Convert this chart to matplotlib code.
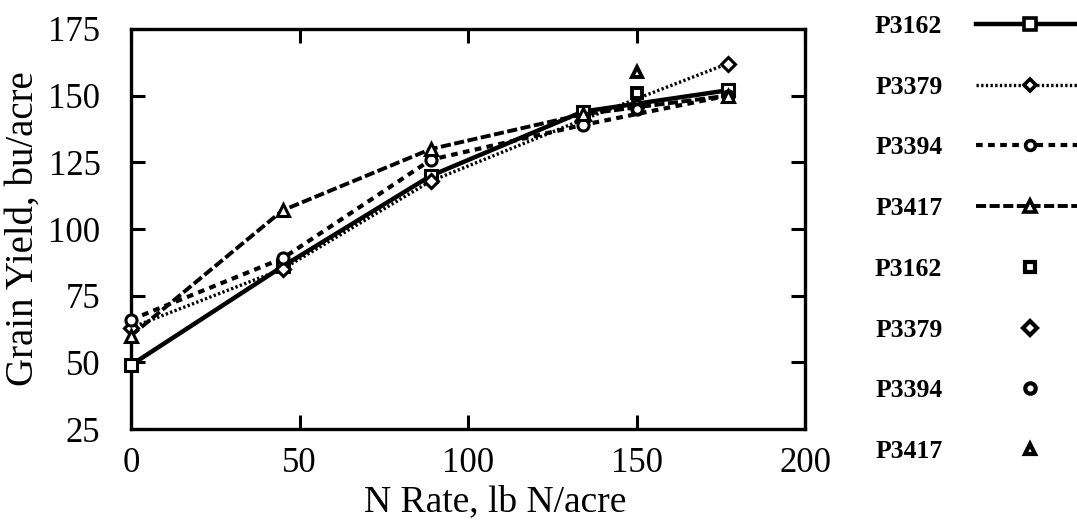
import matplotlib.pyplot as plt
from matplotlib.lines import Line2D

# N rates (lb N/acre) for the fitted/connected series
n_rate = [0, 45, 89, 134, 177]
# separate single N rate shown as markers only
n_rate_single = [150]

hybrids = ["P3162", "P3379", "P3394", "P3417"]

yield_p3162 = [49, 86, 120, 144, 152]
yield_p3379 = [63, 85, 118, 141, 162]
yield_p3394 = [66, 89, 126, 139, 150]
yield_p3417 = [60, 107, 130, 143, 150]

single_p3162 = [151]
single_p3379 = [146]
single_p3394 = [145]
single_p3417 = [159]

line_yields = [yield_p3162, yield_p3379, yield_p3394, yield_p3417]
single_yields = [single_p3162, single_p3379, single_p3394, single_p3417]

markers = ['s', 'D', 'o', '^']
msizes = [9, 7, 8, 9]
styles = [
    dict(linestyle='-', linewidth=3.2),
    dict(linestyle=(0, (0.7, 0.7)), linewidth=2.4),
    dict(linestyle=(0, (1.6, 1.3)), linewidth=3.0),
    dict(linestyle=(0, (2.6, 0.9)), linewidth=2.8),
]

plt.rcParams['font.family'] = ['Liberation Serif', 'DejaVu Serif']

fig = plt.figure(figsize=(10.77, 5.22), dpi=100)
ax = fig.add_axes([0.1216, 0.178, 0.626, 0.7665])

handles = []
labels = []
for name, ys, m, ms, st in zip(hybrids, line_yields, markers, msizes, styles):
    ax.plot(n_rate, ys, color='black', marker=m, markersize=ms,
            markerfacecolor='white', markeredgecolor='black',
            markeredgewidth=2.2, clip_on=False, zorder=3, **st)
    handles.append(Line2D([], [], color='black', marker=m, markersize=ms - 1,
                          markerfacecolor='white', markeredgewidth=2.6, **st))
    labels.append(name)

for name, ys, m in zip(hybrids, single_yields, markers):
    ax.plot(n_rate_single, ys, linestyle='none', marker=m, markersize=7.5,
            markerfacecolor='white', markeredgecolor='black',
            markeredgewidth=2.8, clip_on=False, zorder=4)
    handles.append(Line2D([], [], linestyle='none', color='black', marker=m,
                          markersize=7.5, markerfacecolor='white',
                          markeredgewidth=3.0))
    labels.append(name)

ax.set_xlim(0, 200)
ax.set_ylim(25, 175)
ax.set_xticks([0, 50, 100, 150, 200])
ax.set_yticks([25, 50, 75, 100, 125, 150, 175])
ax.tick_params(direction='in', length=10, width=2.2, top=True, right=True,
               labelsize=25)
ax.tick_params(axis='x', pad=13)
ax.tick_params(axis='y', pad=22)
for sp in ax.spines.values():
    sp.set_linewidth(2.4)

ax.set_xlabel("N Rate, lb N/acre", fontsize=27)
ax.set_ylabel("Grain Yield, bu/acre", fontsize=28)
ax.xaxis.set_label_coords(0.54, -0.14)
ax.yaxis.set_label_coords(-0.132, 0.5)

leg = fig.legend(handles, labels, loc='upper left',
                 bbox_to_anchor=(0.791, 1.016), frameon=False,
                 markerfirst=False, numpoints=1, handlelength=4.2,
                 handletextpad=1.3, labelspacing=1.47,
                 prop={'family': 'Liberation Serif', 'weight': 'bold',
                       'size': 18.5})

fig.savefig("out.png", dpi=100, facecolor='white')
